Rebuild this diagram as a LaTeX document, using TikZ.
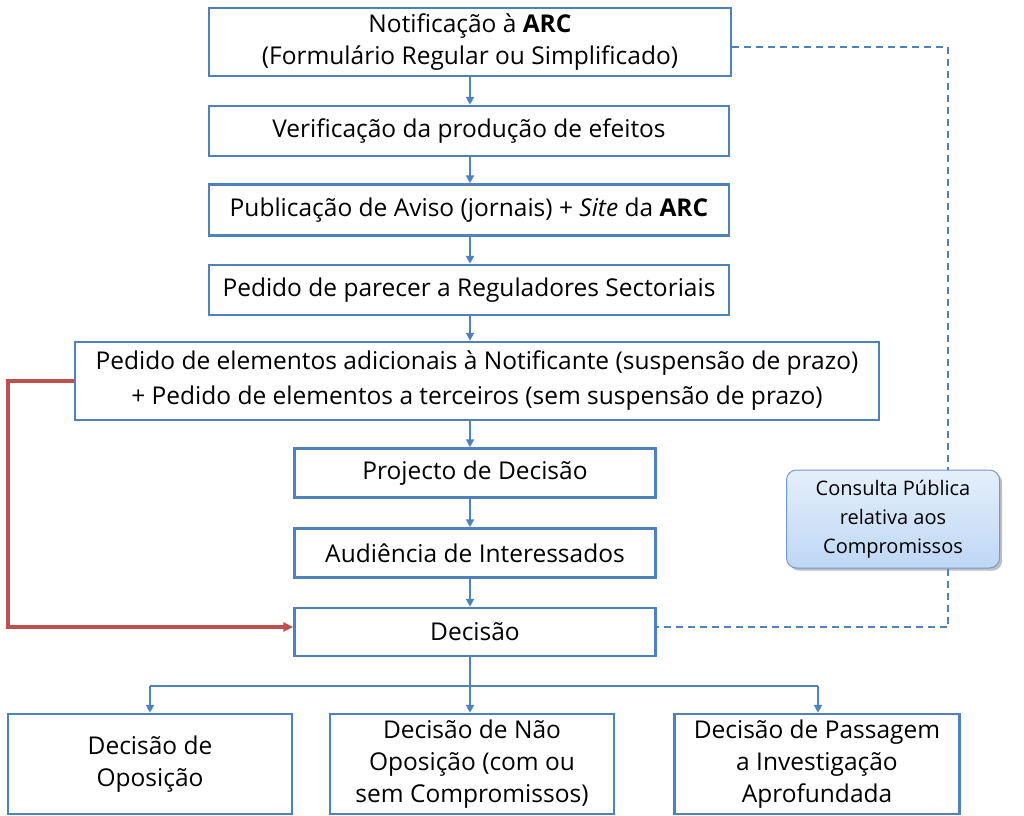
\documentclass[tikz,border=0pt]{standalone}
\usepackage{fontspec}
\setmainfont{Open Sans}
\usetikzlibrary{arrows.meta,shadows}
\definecolor{boxline}{RGB}{79,129,189}
\definecolor{redline}{RGB}{192,80,77}
\definecolor{cpfill}{RGB}{190,215,245}
\tikzset{
  stepbox/.style={draw=boxline,line width=2.5pt,fill=white,align=center,inner sep=0pt,font=\fontsize{24.5}{32}\selectfont},
  flow/.style={draw=boxline,line width=2.5pt,-{Triangle[length=8pt,width=8pt]}},
  bold/.style={font=\bfseries}
}
\begin{document}
\begin{tikzpicture}[x=1pt,y=-1pt]
\useasboundingbox (0,0) rectangle (1024,815);
% main column
\node[stepbox,minimum width=522pt,minimum height=68pt] (notif) at (470,42) {Notificação à {\bfseries ARC}\\(Formulário Regular ou Simplificado)};
\node[stepbox,minimum width=520pt,minimum height=50pt] (verif) at (469,131) {Verificação da produção de efeitos};
\node[stepbox,minimum width=520pt,minimum height=51pt] (publ) at (469,210) {Publicação de Aviso (jornais) + \textit{Site} da {\bfseries ARC}};
\node[stepbox,minimum width=520pt,minimum height=50pt] (parecer) at (469,290) {Pedido de parecer a Reguladores Sectoriais};
\node[stepbox,minimum width=804pt,minimum height=78pt,font=\fontsize{24.5}{35}\selectfont] (elem) at (477,381) {Pedido de elementos adicionais à Notificante (suspensão de prazo)\\+ Pedido de elementos a terceiros (sem suspensão de prazo)};
\node[stepbox,minimum width=361pt,minimum height=49pt] (proj) at (475,473) {Projecto de Decisão};
\node[stepbox,minimum width=361pt,minimum height=49pt] (aud) at (475,553) {Audiência de Interessados};
\node[stepbox,minimum width=361pt,minimum height=48pt] (dec) at (475,632) {Decisão};
% outcomes
\node[stepbox,minimum width=284pt,minimum height=100pt] (opos) at (150,764) {Decisão de\\Oposição};
\node[stepbox,minimum width=284pt,minimum height=100pt] (naoop) at (472,764) {Decisão de Não\\Oposição (com ou\\sem Compromissos)};
\node[stepbox,minimum width=285pt,minimum height=100pt] (passag) at (817,764) {Decisão de Passagem\\a Investigação\\Aprofundada};
% consulta
\node[draw=boxline!80,line width=1pt,rounded corners=10pt,top color=cpfill!40,bottom color=cpfill,drop shadow,align=center,minimum width=213pt,minimum height=98pt,font=\fontsize{20}{29}\selectfont] (cons) at (893,519) {Consulta Pública\\relativa aos\\Compromissos};
% arrows down
\foreach \a/\b in {notif/verif,verif/publ,publ/parecer,parecer/elem,elem/proj,proj/aud,aud/dec}
  \draw[flow] (\a.south -| 470,0) -- (\b.north -| 470,0);
\coordinate (branch) at (470,686);
\draw[draw=boxline,line width=2.5pt] (dec.south -| branch) -- (branch);
\draw[draw=boxline,line width=2.5pt] (150,686) -- (818,686);
\draw[flow] (150,686) -- (opos.north);
\draw[flow] (branch) -- (naoop.north -| branch);
\draw[flow] (818,686) -- (passag.north -| 818,0);
% red bypass
\draw[draw=redline,line width=3.5pt,-{Triangle[length=10pt,width=9pt]}] (elem.west) -- (8,381) -- (8,627) -- (dec.west |- 0,627);
% dashed loop
\draw[draw=boxline,line width=2pt,dashed,dash pattern=on 7pt off 5pt] (notif.east |- 0,47) -- (948,47) -- (cons.north -| 948,0);
\draw[draw=boxline,line width=2pt,dashed,dash pattern=on 7pt off 5pt] (cons.south -| 948,0) -- (948,627) -- (dec.east |- 0,627);
\end{tikzpicture}
\end{document}
